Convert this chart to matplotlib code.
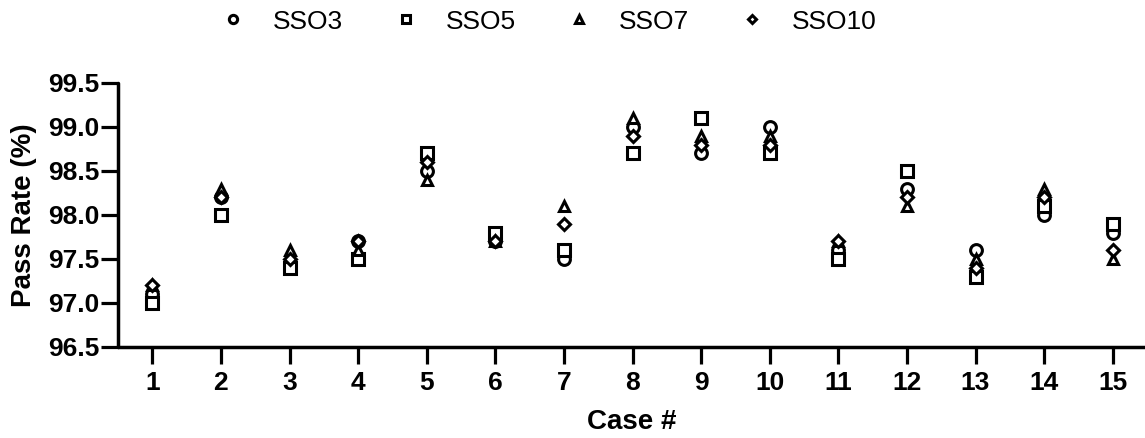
import numpy as np
import matplotlib
matplotlib.use('Agg')
from matplotlib import pyplot as plt

plt.rcParams['font.family'] = ['Liberation Sans', 'DejaVu Sans']

cases = np.arange(1, 16)
sso3  = [97.1, 98.2, 97.4, 97.7, 98.5, 97.7, 97.5, 99.0, 98.7, 99.0, 97.6, 98.3, 97.6, 98.0, 97.8]
sso5  = [97.0, 98.0, 97.4, 97.5, 98.7, 97.8, 97.6, 98.7, 99.1, 98.7, 97.5, 98.5, 97.3, 98.1, 97.9]
sso7  = [97.2, 98.3, 97.6, 97.6, 98.4, 97.7, 98.1, 99.1, 98.9, 98.9, 97.7, 98.1, 97.5, 98.3, 97.5]
sso10 = [97.2, 98.2, 97.5, 97.7, 98.6, 97.7, 97.9, 98.9, 98.8, 98.8, 97.7, 98.2, 97.4, 98.2, 97.6]

series = [('SSO3', sso3, 'o', 8.5), ('SSO5', sso5, 's', 8.0),
          ('SSO7', sso7, '^', 7.5), ('SSO10', sso10, 'D', 6.0)]

fig = plt.figure(figsize=(11.45, 4.38), dpi=100)
ax = fig.add_axes([118/1145, (438-347)/438, (1145-118)/1145, (347-83)/438])

for name, vals, mk, ms in series:
    ax.plot(cases, vals, linestyle='none', marker=mk, markersize=ms,
            markerfacecolor='white', markeredgecolor='black', markeredgewidth=2.2,
            label=name)

ax.set_xlim(0.5, 15.47)
ax.set_ylim(96.5, 99.5)
ax.set_xticks(cases)
ax.set_yticks(np.arange(96.5, 99.51, 0.5))
ax.set_yticklabels(['%.1f' % v for v in np.arange(96.5, 99.51, 0.5)])

for s in ['top', 'right']:
    ax.spines[s].set_visible(False)
for s in ['left', 'bottom']:
    ax.spines[s].set_linewidth(2.5)
    ax.spines[s].set_capstyle('round')
ax.tick_params(width=2.3, length=12.5, labelsize=19)
ax.tick_params(axis='y', pad=1)
ax.tick_params(axis='x', pad=5)
for lab in ax.get_xticklabels() + ax.get_yticklabels():
    lab.set_fontweight('bold')

ax.set_xlabel('Case #', fontsize=20, fontweight='bold', labelpad=10)
ax.set_ylabel('Pass Rate (%)', fontsize=20, fontweight='bold', labelpad=8)

fig.legend(loc='upper left', bbox_to_anchor=(196/1145, 1.032), ncol=4, frameon=False,
           fontsize=19, markerscale=0.7, handlelength=1.0, handletextpad=1.0,
           columnspacing=1.9)

plt.savefig('out.png', dpi=100, facecolor='w')
